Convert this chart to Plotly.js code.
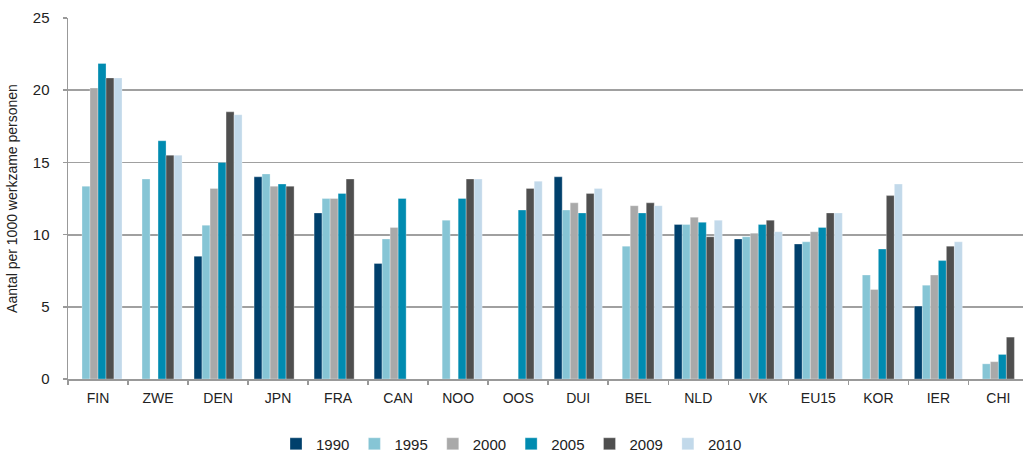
<!DOCTYPE html>
<html><head><meta charset="utf-8">
<script src="https://cdn.plot.ly/plotly-3.0.1.min.js"></script>
<style>html,body{margin:0;padding:0;background:#fff}#chart{width:1023px;height:451px}</style>
</head><body><div id="chart"></div>
<script>
const categories = ["FIN","ZWE","DEN","JPN","FRA","CAN","NOO","OOS","DUI","BEL","NLD","VK","EU15","KOR","IER","CHI"];
const years = ["1990","1995","2000","2005","2009","2010"];
const v1990 = [null,null,8.5,14.0,11.5,8.0,null,null,14.0,null,10.7,9.7,9.35,null,5.05,null];
const v1995 = [13.35,13.85,10.65,14.2,12.5,9.7,11.0,null,11.7,9.2,10.7,9.85,9.5,7.2,6.5,1.05];
const v2000 = [20.15,null,13.2,13.35,12.5,10.5,null,null,12.2,12.0,11.2,10.1,10.2,6.2,7.2,1.2];
const v2005 = [21.85,16.5,15.0,13.5,12.85,12.5,12.5,11.7,11.5,11.5,10.85,10.7,10.5,9.0,8.2,1.7];
const v2009 = [20.85,15.5,18.5,13.35,13.85,null,13.85,13.2,12.85,12.2,9.85,11.0,11.5,12.7,9.2,2.9];
const v2010 = [20.85,15.5,18.3,null,null,null,13.85,13.7,13.2,12.0,11.0,10.2,11.5,13.5,9.5,null];
const seriesValues = [v1990,v1995,v2000,v2005,v2009,v2010];
const colors = ["#00406C","#86C5D5","#A9A9A9","#008BB0","#4F4F4F","#C2D9EA"];

const traces = years.map((y,i)=>({
  type:"bar", name:y, x:categories, y:seriesValues[i],
  marker:{color:colors[i], line:{color:"rgba(255,255,255,0.6)", width:0.5}},
  hoverinfo:"x+y+name"
}));

const layout = {
  width:1023, height:451,
  margin:{l:68, r:0, t:18, b:72},
  paper_bgcolor:"#fff", plot_bgcolor:"#fff",
  font:{family:"Liberation Sans, Arial, sans-serif", size:14, color:"#222"},
  barmode:"group", bargap:0.2, bargroupgap:0,
  showlegend:true,
  legend:{orientation:"h", xref:"container", yref:"container", x:0.5, xanchor:"center", y:0.052, yanchor:"top",
    font:{size:15, color:"#222"}, itemwidth:30, tracegroupgap:0},
  xaxis:{type:"category", range:[-0.5,15.41], showline:true, linecolor:"#999", linewidth:1.5,
    ticks:"outside", tickson:"boundaries", ticklen:4, tickcolor:"#999", tickwidth:1.5,
    showgrid:false, tickfont:{size:14, color:"#222"}, automargin:false, ticklabelstandoff:6},
  yaxis:{range:[0,25], dtick:5, showline:true, linecolor:"#999", linewidth:1.5,
    ticks:"outside", ticklen:4, tickcolor:"#999", tickwidth:1.5,
    showgrid:true, gridcolor:"#A0A0A0", gridwidth:1.8, zeroline:false,
    tickfont:{size:15, color:"#222"}, automargin:false, ticklabelstandoff:10,
    title:{text:"Aantal per 1000 werkzame personen", font:{size:14, color:"#222"}, standoff:12}}
};
Plotly.newPlot("chart", traces, layout, {displayModeBar:false, staticPlot:true});
</script></body></html>
